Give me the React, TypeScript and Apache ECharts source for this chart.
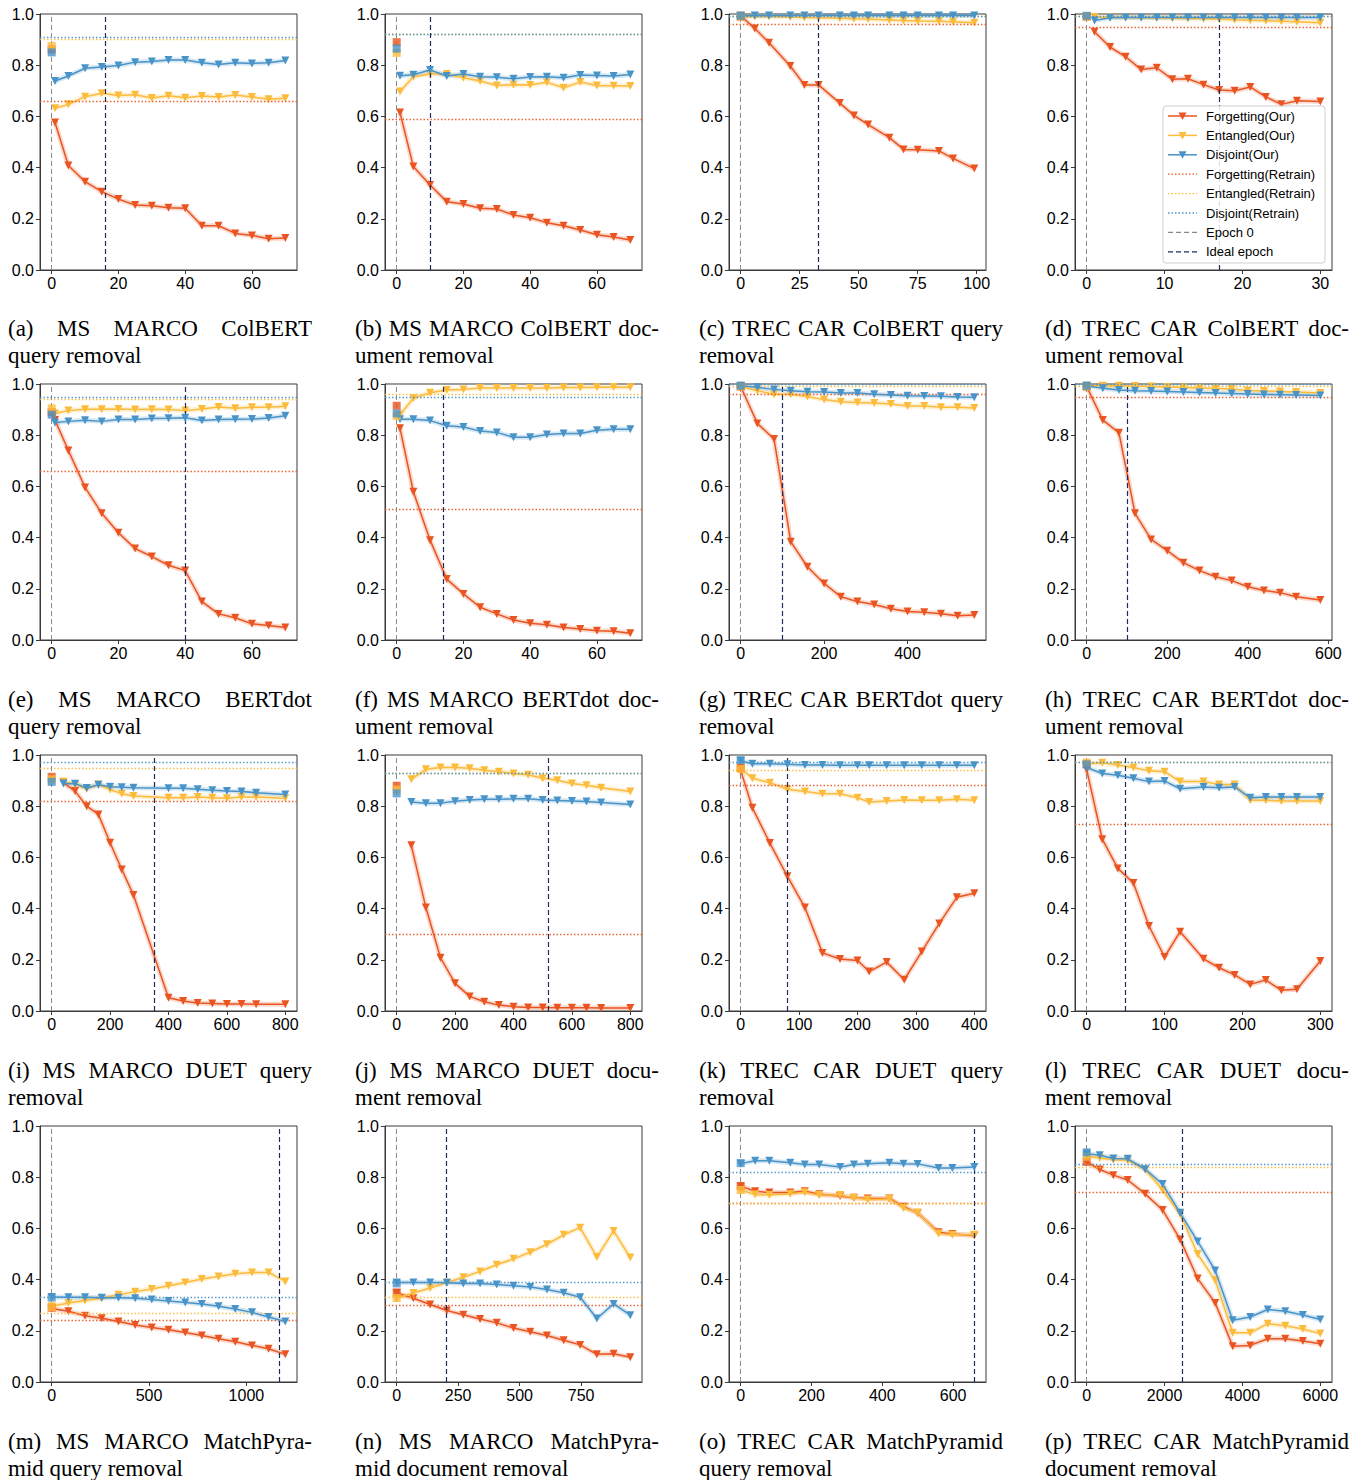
import React, { useEffect, useRef } from "react";
import * as echarts from "echarts";

const RED = "#EA5420";
const YEL = "#FCBB3A";
const BLU = "#4893C7";
const GRAY = "#8a8a8a";
const NAVY = "#1c2b5a";

// ---------- (a) MS MARCO ColBERT query removal
const aX = [1, 5, 10, 15, 20, 25, 30, 35, 40, 45, 50, 55, 60, 65, 70];
const aForget = [0.576, 0.408, 0.345, 0.306, 0.277, 0.254, 0.251, 0.243, 0.241, 0.173, 0.173, 0.143, 0.135, 0.122, 0.125];
const aEntangled = [0.632, 0.647, 0.677, 0.69, 0.682, 0.685, 0.672, 0.681, 0.673, 0.68, 0.676, 0.684, 0.676, 0.667, 0.671];
const aDisjoint = [0.738, 0.758, 0.788, 0.793, 0.799, 0.812, 0.814, 0.82, 0.82, 0.81, 0.803, 0.81, 0.807, 0.81, 0.818];
const aEpoch0 = [0.862, 0.875, 0.85];
const aRetrain = [0.661, 0.898, 0.908];
const aIdeal = 16;
const aTicks = [0, 20, 40, 60];

// ---------- (b) MS MARCO ColBERT document removal
const bX = [1, 5, 10, 15, 20, 25, 30, 35, 40, 45, 50, 55, 60, 65, 70];
const bForget = [0.615, 0.404, 0.332, 0.267, 0.258, 0.241, 0.238, 0.215, 0.204, 0.185, 0.173, 0.156, 0.138, 0.129, 0.117];
const bEntangled = [0.697, 0.755, 0.766, 0.766, 0.751, 0.738, 0.721, 0.724, 0.723, 0.733, 0.712, 0.734, 0.721, 0.72, 0.719];
const bDisjoint = [0.759, 0.763, 0.781, 0.758, 0.766, 0.755, 0.753, 0.747, 0.754, 0.755, 0.751, 0.762, 0.76, 0.758, 0.764];
const bEpoch0 = [0.89, 0.848, 0.865];
const bRetrain = [0.591, 0.921, 0.923];
const bIdeal = 10;
const bTicks = [0, 20, 40, 60];

// ---------- (c) TREC CAR ColBERT query removal
const cX = [0, 6, 12, 21, 27, 33, 42, 48, 54, 63, 69, 75, 84, 90, 99];
const cForget = [0.993, 0.943, 0.888, 0.797, 0.723, 0.723, 0.652, 0.604, 0.568, 0.517, 0.471, 0.47, 0.465, 0.436, 0.396];
const cEntangled = [0.99, 0.99, 0.99, 0.988, 0.986, 0.985, 0.983, 0.981, 0.98, 0.977, 0.975, 0.973, 0.972, 0.97, 0.966];
const cDisjoint = [0.993, 0.994, 0.994, 0.994, 0.994, 0.994, 0.994, 0.994, 0.994, 0.994, 0.994, 0.994, 0.994, 0.994, 0.994];
const cEpoch0 = [0.99, 0.99, 0.993];
const cRetrain = [0.956, 0.99, 0.995];
const cIdeal = 33;
const cTicks = [0, 25, 50, 75, 100];

// ---------- (d) TREC CAR ColBERT document removal
const dX = [1, 3, 5, 7, 9, 11, 13, 15, 17, 19, 21, 23, 25, 27, 30];
const dForget = [0.931, 0.871, 0.833, 0.783, 0.79, 0.745, 0.747, 0.724, 0.703, 0.7, 0.715, 0.676, 0.647, 0.661, 0.658];
const dEntangled = [0.988, 0.987, 0.986, 0.985, 0.984, 0.983, 0.982, 0.981, 0.98, 0.978, 0.976, 0.974, 0.972, 0.97, 0.966];
const dDisjoint = [0.975, 0.985, 0.986, 0.986, 0.986, 0.986, 0.986, 0.986, 0.986, 0.986, 0.986, 0.986, 0.986, 0.986, 0.986];
const dEpoch0 = [0.99, 0.99, 0.993];
const dRetrain = [0.949, 0.99, 0.995];
const dIdeal = 17;
const dTicks = [0, 10, 20, 30];

// ---------- (e) MS MARCO BERTdot query removal
const eX = [1, 5, 10, 15, 20, 25, 30, 35, 40, 45, 50, 55, 60, 65, 70];
const eForget = [0.859, 0.74, 0.596, 0.495, 0.419, 0.357, 0.326, 0.292, 0.271, 0.15, 0.102, 0.087, 0.063, 0.057, 0.049];
const eEntangled = [0.885, 0.896, 0.901, 0.901, 0.902, 0.9, 0.901, 0.9, 0.896, 0.902, 0.91, 0.905, 0.909, 0.909, 0.913];
const eDisjoint = [0.85, 0.854, 0.858, 0.854, 0.861, 0.861, 0.865, 0.866, 0.868, 0.857, 0.861, 0.862, 0.863, 0.867, 0.876];
const eEpoch0 = [0.89, 0.905, 0.88];
const eRetrain = [0.661, 0.94, 0.95];
const eIdeal = 40;
const eTicks = [0, 20, 40, 60];

// ---------- (f) MS MARCO BERTdot document removal
const fX = [1, 5, 10, 15, 20, 25, 30, 35, 40, 45, 50, 55, 60, 65, 70];
const fForget = [0.827, 0.579, 0.39, 0.238, 0.18, 0.128, 0.102, 0.078, 0.065, 0.06, 0.049, 0.043, 0.036, 0.034, 0.026];
const fEntangled = [0.88, 0.944, 0.966, 0.977, 0.979, 0.984, 0.984, 0.984, 0.984, 0.984, 0.986, 0.986, 0.987, 0.988, 0.987];
const fDisjoint = [0.862, 0.862, 0.857, 0.837, 0.832, 0.816, 0.811, 0.792, 0.792, 0.803, 0.807, 0.807, 0.819, 0.823, 0.823];
const fEpoch0 = [0.915, 0.875, 0.885];
const fRetrain = [0.508, 0.96, 0.954];
const fIdeal = 14;
const fTicks = [0, 20, 40, 60];

// ---------- (g) TREC CAR BERTdot query removal
const gX = [0, 40, 80, 120, 160, 200, 240, 280, 320, 360, 400, 440, 480, 520, 560];
const gForget = [0.99, 0.846, 0.785, 0.384, 0.286, 0.221, 0.169, 0.15, 0.139, 0.122, 0.111, 0.108, 0.103, 0.095, 0.098];
const gEntangled = [0.99, 0.974, 0.96, 0.96, 0.951, 0.939, 0.931, 0.928, 0.926, 0.922, 0.914, 0.914, 0.909, 0.909, 0.906];
const gDisjoint = [0.993, 0.987, 0.979, 0.974, 0.97, 0.969, 0.965, 0.965, 0.96, 0.957, 0.954, 0.953, 0.952, 0.949, 0.948];
const gEpoch0 = [0.99, 0.99, 0.993];
const gRetrain = [0.964, 0.995, 0.996];
const gIdeal = 100;
const gTicks = [0, 200, 400];

// ---------- (h) TREC CAR BERTdot document removal
const hX = [0, 40, 80, 120, 160, 200, 240, 280, 320, 360, 400, 440, 480, 520, 580];
const hForget = [0.99, 0.859, 0.81, 0.495, 0.393, 0.349, 0.302, 0.271, 0.247, 0.232, 0.208, 0.193, 0.185, 0.169, 0.156];
const hEntangled = [0.993, 0.993, 0.993, 0.992, 0.99, 0.988, 0.986, 0.984, 0.982, 0.98, 0.975, 0.973, 0.971, 0.969, 0.965];
const hDisjoint = [0.993, 0.983, 0.977, 0.974, 0.973, 0.971, 0.969, 0.967, 0.965, 0.963, 0.961, 0.959, 0.958, 0.957, 0.955];
const hEpoch0 = [0.99, 0.99, 0.993];
const hRetrain = [0.95, 0.995, 0.996];
const hIdeal = 100;
const hTicks = [0, 200, 400, 600];

// ---------- (i) MS MARCO DUET query removal
const iX = [40, 80, 120, 160, 200, 240, 280, 400, 450, 500, 550, 600, 650, 700, 800];
const iForget = [0.892, 0.859, 0.8, 0.768, 0.657, 0.553, 0.453, 0.052, 0.039, 0.031, 0.029, 0.027, 0.027, 0.026, 0.026];
const iEntangled = [0.896, 0.885, 0.868, 0.885, 0.865, 0.849, 0.84, 0.833, 0.833, 0.836, 0.833, 0.831, 0.836, 0.836, 0.831];
const iDisjoint = [0.889, 0.888, 0.871, 0.884, 0.876, 0.874, 0.872, 0.87, 0.87, 0.866, 0.862, 0.859, 0.857, 0.853, 0.846];
const iEpoch0 = [0.915, 0.905, 0.895];
const iRetrain = [0.816, 0.954, 0.966];
const iIdeal = 350;
const iTicks = [0, 200, 400, 600, 800];

// ---------- (j) MS MARCO DUET document removal
const jX = [50, 100, 150, 200, 250, 300, 350, 400, 450, 500, 550, 600, 650, 700, 800];
const jForget = [0.647, 0.404, 0.208, 0.108, 0.057, 0.036, 0.023, 0.017, 0.014, 0.014, 0.013, 0.013, 0.013, 0.012, 0.012];
const jEntangled = [0.905, 0.944, 0.951, 0.951, 0.948, 0.94, 0.935, 0.928, 0.923, 0.909, 0.901, 0.889, 0.882, 0.872, 0.857];
const jDisjoint = [0.816, 0.812, 0.812, 0.819, 0.824, 0.827, 0.827, 0.829, 0.829, 0.824, 0.822, 0.82, 0.818, 0.814, 0.807];
const jEpoch0 = [0.88, 0.865, 0.85];
const jRetrain = [0.296, 0.934, 0.931];
const jIdeal = 520;
const jTicks = [0, 200, 400, 600, 800];

// ---------- (k) TREC CAR DUET query removal
const kX = [0, 20, 50, 80, 110, 140, 170, 200, 220, 250, 280, 310, 340, 370, 400];
const kForget = [0.94, 0.794, 0.656, 0.526, 0.404, 0.227, 0.203, 0.197, 0.154, 0.191, 0.122, 0.232, 0.342, 0.444, 0.46];
const kEntangled = [0.948, 0.909, 0.892, 0.866, 0.857, 0.849, 0.849, 0.833, 0.816, 0.82, 0.824, 0.823, 0.823, 0.827, 0.823];
const kDisjoint = [0.977, 0.966, 0.966, 0.964, 0.961, 0.961, 0.96, 0.96, 0.96, 0.96, 0.96, 0.96, 0.96, 0.96, 0.96];
const kEpoch0 = [0.95, 0.945, 0.98];
const kRetrain = [0.883, 0.939, 0.973];
const kIdeal = 80;
const kTicks = [0, 100, 200, 300, 400];

// ---------- (l) TREC CAR DUET document removal
const lX = [0, 20, 40, 60, 80, 100, 120, 150, 170, 190, 210, 230, 250, 270, 300];
const lForget = [0.943, 0.671, 0.557, 0.5, 0.332, 0.211, 0.31, 0.204, 0.169, 0.141, 0.104, 0.121, 0.081, 0.085, 0.195];
const lEntangled = [0.966, 0.97, 0.961, 0.951, 0.938, 0.935, 0.896, 0.896, 0.885, 0.885, 0.823, 0.823, 0.82, 0.82, 0.82];
const lDisjoint = [0.951, 0.928, 0.921, 0.909, 0.896, 0.898, 0.868, 0.875, 0.872, 0.875, 0.833, 0.836, 0.836, 0.836, 0.836];
const lEpoch0 = [0.965, 0.97, 0.963];
const lRetrain = [0.732, 0.974, 0.966];
const lIdeal = 50;
const lTicks = [0, 100, 200, 300];

// ---------- (m) MS MARCO MatchPyramid query removal
const mX = [0, 86, 171, 257, 343, 429, 514, 600, 686, 771, 857, 943, 1029, 1114, 1200];
const mForget = [0.287, 0.276, 0.259, 0.249, 0.236, 0.223, 0.213, 0.204, 0.193, 0.182, 0.169, 0.157, 0.143, 0.13, 0.108];
const mEntangled = [0.296, 0.309, 0.318, 0.327, 0.341, 0.353, 0.363, 0.376, 0.389, 0.402, 0.412, 0.423, 0.428, 0.428, 0.393];
const mDisjoint = [0.332, 0.331, 0.331, 0.329, 0.329, 0.327, 0.322, 0.316, 0.311, 0.305, 0.296, 0.285, 0.272, 0.254, 0.236];
const mEpoch0 = [0.29, 0.293, 0.33];
const mRetrain = [0.243, 0.266, 0.328];
const mIdeal = 1167;
const mTicks = [0, 500, 1000];

// ---------- (n) MS MARCO MatchPyramid document removal
const nX = [0, 68, 136, 204, 271, 339, 407, 475, 543, 611, 679, 746, 814, 882, 950];
const nForget = [0.348, 0.327, 0.303, 0.279, 0.263, 0.246, 0.231, 0.211, 0.196, 0.182, 0.163, 0.145, 0.108, 0.11, 0.097];
const nEntangled = [0.328, 0.348, 0.367, 0.389, 0.409, 0.432, 0.458, 0.481, 0.507, 0.538, 0.575, 0.603, 0.488, 0.59, 0.486];
const nDisjoint = [0.389, 0.389, 0.389, 0.388, 0.385, 0.385, 0.381, 0.376, 0.371, 0.361, 0.349, 0.331, 0.248, 0.305, 0.261];
const nEpoch0 = [0.35, 0.328, 0.385];
const nRetrain = [0.305, 0.327, 0.388];
const nIdeal = 200;
const nTicks = [0, 250, 500, 750];

// ---------- (o) TREC CAR MatchPyramid query removal
const oX = [0, 41, 81, 140, 181, 222, 281, 320, 359, 420, 460, 500, 559, 598, 660];
const oForget = [0.765, 0.745, 0.74, 0.74, 0.745, 0.733, 0.727, 0.72, 0.717, 0.717, 0.685, 0.66, 0.585, 0.578, 0.572];
const oEntangled = [0.75, 0.732, 0.73, 0.735, 0.741, 0.73, 0.73, 0.72, 0.713, 0.715, 0.68, 0.662, 0.58, 0.575, 0.575];
const oDisjoint = [0.853, 0.864, 0.864, 0.856, 0.85, 0.85, 0.84, 0.85, 0.853, 0.856, 0.853, 0.852, 0.836, 0.836, 0.84];
const oEpoch0 = [0.765, 0.75, 0.855];
const oRetrain = [0.7, 0.7, 0.818];
const oIdeal = 660;
const oTicks = [0, 200, 400, 600];

// ---------- (p) TREC CAR MatchPyramid document removal
const pX = [0, 336, 684, 1054, 1502, 1950, 2400, 2850, 3300, 3750, 4200, 4650, 5100, 5550, 6000];
const pForget = [0.86, 0.83, 0.808, 0.789, 0.735, 0.672, 0.557, 0.404, 0.309, 0.14, 0.143, 0.169, 0.169, 0.16, 0.149];
const pEntangled = [0.882, 0.875, 0.868, 0.866, 0.83, 0.75, 0.656, 0.5, 0.397, 0.192, 0.192, 0.228, 0.22, 0.207, 0.189];
const pDisjoint = [0.892, 0.886, 0.873, 0.872, 0.831, 0.773, 0.661, 0.549, 0.436, 0.241, 0.254, 0.283, 0.276, 0.262, 0.244];
const pEpoch0 = [0.86, 0.88, 0.897];
const pRetrain = [0.742, 0.837, 0.85];
const pIdeal = 2460;
const pTicks = [0, 2000, 4000, 6000];

const captions: [string, string][] = [
  ["(a) MS MARCO ColBERT", "query removal"],
  ["(b) MS MARCO ColBERT doc-", "ument removal"],
  ["(c) TREC CAR ColBERT query", "removal"],
  ["(d) TREC CAR ColBERT doc-", "ument removal"],
  ["(e) MS MARCO BERTdot", "query removal"],
  ["(f) MS MARCO BERTdot doc-", "ument removal"],
  ["(g) TREC CAR BERTdot query", "removal"],
  ["(h) TREC CAR BERTdot doc-", "ument removal"],
  ["(i) MS MARCO DUET query", "removal"],
  ["(j) MS MARCO DUET docu-", "ment removal"],
  ["(k) TREC CAR DUET query", "removal"],
  ["(l) TREC CAR DUET docu-", "ment removal"],
  ["(m) MS MARCO MatchPyra-", "mid query removal"],
  ["(n) MS MARCO MatchPyra-", "mid document removal"],
  ["(o) TREC CAR MatchPyramid", "query removal"],
  ["(p) TREC CAR MatchPyramid", "document removal"],
];

const legendNames = [
  "Forgetting(Our)",
  "Entangled(Our)",
  "Disjoint(Our)",
  "Forgetting(Retrain)",
  "Entangled(Retrain)",
  "Disjoint(Retrain)",
  "Epoch 0",
  "Ideal epoch",
];

type Panel = {
  x: number[];
  f: number[];
  e: number[];
  d: number[];
  sq: number[];
  rt: number[];
  ideal: number;
  ticks: number[];
};

const panels: Panel[] = [
  { x: aX, f: aForget, e: aEntangled, d: aDisjoint, sq: aEpoch0, rt: aRetrain, ideal: aIdeal, ticks: aTicks },
  { x: bX, f: bForget, e: bEntangled, d: bDisjoint, sq: bEpoch0, rt: bRetrain, ideal: bIdeal, ticks: bTicks },
  { x: cX, f: cForget, e: cEntangled, d: cDisjoint, sq: cEpoch0, rt: cRetrain, ideal: cIdeal, ticks: cTicks },
  { x: dX, f: dForget, e: dEntangled, d: dDisjoint, sq: dEpoch0, rt: dRetrain, ideal: dIdeal, ticks: dTicks },
  { x: eX, f: eForget, e: eEntangled, d: eDisjoint, sq: eEpoch0, rt: eRetrain, ideal: eIdeal, ticks: eTicks },
  { x: fX, f: fForget, e: fEntangled, d: fDisjoint, sq: fEpoch0, rt: fRetrain, ideal: fIdeal, ticks: fTicks },
  { x: gX, f: gForget, e: gEntangled, d: gDisjoint, sq: gEpoch0, rt: gRetrain, ideal: gIdeal, ticks: gTicks },
  { x: hX, f: hForget, e: hEntangled, d: hDisjoint, sq: hEpoch0, rt: hRetrain, ideal: hIdeal, ticks: hTicks },
  { x: iX, f: iForget, e: iEntangled, d: iDisjoint, sq: iEpoch0, rt: iRetrain, ideal: iIdeal, ticks: iTicks },
  { x: jX, f: jForget, e: jEntangled, d: jDisjoint, sq: jEpoch0, rt: jRetrain, ideal: jIdeal, ticks: jTicks },
  { x: kX, f: kForget, e: kEntangled, d: kDisjoint, sq: kEpoch0, rt: kRetrain, ideal: kIdeal, ticks: kTicks },
  { x: lX, f: lForget, e: lEntangled, d: lDisjoint, sq: lEpoch0, rt: lRetrain, ideal: lIdeal, ticks: lTicks },
  { x: mX, f: mForget, e: mEntangled, d: mDisjoint, sq: mEpoch0, rt: mRetrain, ideal: mIdeal, ticks: mTicks },
  { x: nX, f: nForget, e: nEntangled, d: nDisjoint, sq: nEpoch0, rt: nRetrain, ideal: nIdeal, ticks: nTicks },
  { x: oX, f: oForget, e: oEntangled, d: oDisjoint, sq: oEpoch0, rt: oRetrain, ideal: oIdeal, ticks: oTicks },
  { x: pX, f: pForget, e: pEntangled, d: pDisjoint, sq: pEpoch0, rt: pRetrain, ideal: pIdeal, ticks: pTicks },
];

const TICK_FONT = "Liberation Sans, Arial, sans-serif";
const CAP_FONT_FAMILY = "Liberation Serif";
const CAP_SIZE = 23;
const FRAME = "#3a3a3a";

function buildOption() {
  const colLeft = [40, 385, 729, 1075];
  const rowTop = [14, 384, 755, 1126];
  const W = 257;
  const H = 256;
  const capLeft = [8, 355, 699, 1045];
  const capW = 304;

  const canvas = document.createElement("canvas");
  const ctx = canvas.getContext("2d")!;
  ctx.font = `${CAP_SIZE}px "${CAP_FONT_FAMILY}"`;

  const grids: any[] = [];
  const xAxes: any[] = [];
  const yAxes: any[] = [];
  const series: any[] = [];
  const graphics: any[] = [];

  panels.forEach((p, i) => {
    const r = Math.floor(i / 4);
    const c = i % 4;
    grids.push({
      left: colLeft[c],
      top: rowTop[r],
      width: W,
      height: H,
      show: true,
      borderColor: FRAME,
      borderWidth: 1,
      backgroundColor: "transparent",
    });
    const maxX = Math.max(0, ...p.x);
    const pad = maxX * 0.05;
    xAxes.push({
      type: "value",
      gridIndex: i,
      min: -pad,
      max: maxX + pad,
      axisLine: { show: true, onZero: false, lineStyle: { color: FRAME, width: 1 } },
      axisTick: { show: true, length: 4, customValues: p.ticks, lineStyle: { color: FRAME } },
      axisLabel: {
        customValues: p.ticks,
        formatter: (v: number) => String(Math.round(v)),
        fontSize: 16,
        fontFamily: TICK_FONT,
        color: "#000",
        margin: 5,
      },
      splitLine: { show: false },
    });
    yAxes.push({
      type: "value",
      gridIndex: i,
      min: 0,
      max: 1,
      interval: 0.2,
      axisLine: { show: true, onZero: false, lineStyle: { color: FRAME, width: 1 } },
      axisTick: { show: true, length: 4, lineStyle: { color: FRAME } },
      axisLabel: {
        formatter: (v: number) => v.toFixed(1),
        fontSize: 16,
        fontFamily: TICK_FONT,
        color: "#000",
        margin: 6,
      },
      splitLine: { show: false },
    });

    const lines: [string, number[], string][] = [
      ["Forgetting(Our)", p.f, RED],
      ["Entangled(Our)", p.e, YEL],
      ["Disjoint(Our)", p.d, BLU],
    ];
    // light bands
    lines.forEach(([name, vals, col]) => {
      series.push({
        type: "line",
        name: name + " band",
        xAxisIndex: i,
        yAxisIndex: i,
        data: p.x.map((xv, k) => [xv, vals[k]]),
        symbol: "none",
        silent: true,
        lineStyle: { color: col, width: 5, opacity: 0.22 },
        z: 1,
      });
    });
    // retrain & epoch reference lines
    series.push({
      type: "line",
      name: "refs",
      xAxisIndex: i,
      yAxisIndex: i,
      data: [],
      silent: true,
      markLine: {
        symbol: ["none", "none"],
        silent: true,
        label: { show: false },
        animation: false,
        data: [
          { yAxis: p.rt[0], lineStyle: { color: RED, type: [1.5, 2], width: 1.3, opacity: 0.9 } },
          { yAxis: p.rt[1], lineStyle: { color: YEL, type: [1.5, 2], width: 1.3, opacity: 0.9 } },
          { yAxis: p.rt[2], lineStyle: { color: BLU, type: [1.5, 2], width: 1.3, opacity: 0.9 } },
          { xAxis: 0, lineStyle: { color: GRAY, type: [5, 3], width: 1 } },
          { xAxis: p.ideal, lineStyle: { color: NAVY, type: [5, 3], width: 1.2 } },
        ],
      },
      z: 2,
    });
    lines.forEach(([name, vals, col], li) => {
      series.push({
        type: "line",
        name,
        xAxisIndex: i,
        yAxisIndex: i,
        data: p.x.map((xv, k) => [xv, vals[k]]),
        symbol: "triangle",
        symbolRotate: 180,
        symbolSize: 8,
        showSymbol: true,
        lineStyle: { color: col, width: 1.5 },
        itemStyle: { color: col },
        z: 3 + li,
      });
    });
    series.push({
      type: "scatter",
      name: "epoch0",
      xAxisIndex: i,
      yAxisIndex: i,
      symbol: "rect",
      symbolSize: 8,
      data: [
        { value: [0, p.sq[0]], itemStyle: { color: RED } },
        { value: [0, p.sq[1]], itemStyle: { color: YEL } },
        { value: [0, p.sq[2]], itemStyle: { color: BLU } },
      ],
      z: 7,
    });

    // captions
    const y1 = 328 + 371 * r;
    const y2 = 355 + 371 * r;
    const [l1, l2] = captions[i];
    const words = l1.split(" ");
    const widths = words.map((w) => ctx.measureText(w).width);
    const total = widths.reduce((s, w) => s + w, 0);
    const gap = (capW - total) / (words.length - 1);
    let xx = capLeft[c];
    words.forEach((w, k) => {
      graphics.push({
        type: "text",
        x: xx,
        y: y1,
        z: 50,
        style: {
          text: w,
          fontSize: CAP_SIZE,
          fontFamily: CAP_FONT_FAMILY,
          fill: "#000",
          align: "left",
          verticalAlign: "middle",
        },
      });
      xx += widths[k] + gap;
    });
    graphics.push({
      type: "text",
      x: capLeft[c],
      y: y2,
      z: 50,
      style: {
        text: l2,
        fontSize: CAP_SIZE,
        fontFamily: CAP_FONT_FAMILY,
        fill: "#000",
        align: "left",
        verticalAlign: "middle",
      },
    });
  });

  // legend (drawn inside panel d)
  const lx = 1163;
  const ly = 106;
  graphics.push({
    type: "rect",
    z: 100,
    shape: { x: lx, y: ly, width: 162, height: 157, r: 3 },
    style: { fill: "rgba(255,255,255,0.85)", stroke: "#cfcfcf", lineWidth: 1 },
  });
  const legendStyles: { color: string; dash: number[] | null; width: number; marker: boolean }[] = [
    { color: RED, dash: null, width: 1.5, marker: true },
    { color: YEL, dash: null, width: 1.5, marker: true },
    { color: BLU, dash: null, width: 1.5, marker: true },
    { color: RED, dash: [1.5, 2], width: 1.3, marker: false },
    { color: YEL, dash: [1.5, 2], width: 1.3, marker: false },
    { color: BLU, dash: [1.5, 2], width: 1.3, marker: false },
    { color: GRAY, dash: [5, 3], width: 1.2, marker: false },
    { color: NAVY, dash: [5, 3], width: 1.2, marker: false },
  ];
  legendNames.forEach((name, k) => {
    const cy = 116 + k * 19.4;
    const st = legendStyles[k];
    graphics.push({
      type: "line",
      z: 101,
      shape: { x1: 1168, y1: cy, x2: 1197, y2: cy },
      style: { stroke: st.color, lineWidth: st.width, lineDash: st.dash || undefined },
    });
    if (st.marker) {
      graphics.push({
        type: "polygon",
        z: 102,
        shape: {
          points: [
            [1182.5 - 4, cy - 3.5],
            [1182.5 + 4, cy - 3.5],
            [1182.5, cy + 4],
          ],
        },
        style: { fill: st.color },
      });
    }
    graphics.push({
      type: "text",
      z: 102,
      x: 1206,
      y: cy,
      style: {
        text: name,
        fontSize: 13,
        fontFamily: TICK_FONT,
        fill: "#000",
        align: "left",
        verticalAlign: "middle",
      },
    });
  });

  return {
    animation: false,
    backgroundColor: "#ffffff",
    grid: grids,
    xAxis: xAxes,
    yAxis: yAxes,
    series,
    graphic: { elements: graphics },
  };
}

export default function App() {
  const ref = useRef<HTMLDivElement>(null);
  useEffect(() => {
    if (!ref.current) return;
    const chart = echarts.init(ref.current, null, { renderer: "svg" });
    chart.setOption(buildOption() as any);
    return () => chart.dispose();
  }, []);
  return (
    <div
      ref={ref}
      style={{ position: "absolute", left: 0, top: 0, width: 1363, height: 1480, background: "#fff" }}
    />
  );
}
